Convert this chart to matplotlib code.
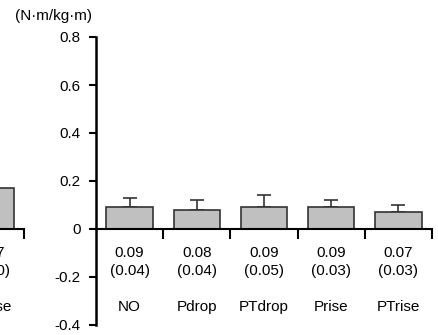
import matplotlib
matplotlib.use('Agg')
from matplotlib import pyplot as plt
from matplotlib.transforms import blended_transform_factory

plt.rcParams['font.family'] = ['Liberation Sans', 'DejaVu Sans']
plt.rcParams['font.size'] = 11
plt.rcParams['axes.unicode_minus'] = False

# main panel
categories = ['NO', 'Pdrop', 'PTdrop', 'Prise', 'PTrise']
means = [0.09, 0.08, 0.09, 0.09, 0.07]
sds = [0.04, 0.04, 0.05, 0.03, 0.03]

# partially visible panel at the left edge (only its last group shows)
left_categories = ['PTrise']
left_means = [0.17]
left_sds = [0.10]

yticks = [-0.4, -0.2, 0, 0.2, 0.4, 0.6, 0.8]
ytick_labels = ['-0.4', '-0.2', '0', '0.2', '0.4', '0.6', '0.8']

W, H = 438, 335
fig = plt.figure(figsize=(W / 100, H / 100), dpi=100)

y_bot, y_top = 325, 37
cat_w = 67.2


def draw_panel(ax, cats, vals, errs, show_y):
    n = len(cats)
    x = [i + 0.5 for i in range(n)]
    ax.bar(x, vals, width=0.69, color='#c0c0c0', edgecolor='#333333', linewidth=1.2, zorder=2)
    ax.errorbar(x, vals, yerr=[[0] * n, errs], fmt='none', ecolor='#333333',
                elinewidth=1.2, capsize=5, capthick=1.2, zorder=1)
    ax.set_xlim(0, n)
    ax.set_ylim(-0.4, 0.8)
    for s in ['top', 'right']:
        ax.spines[s].set_visible(False)
    ax.spines['bottom'].set_position(('data', 0))
    ax.spines['bottom'].set_linewidth(1.5)
    ax.spines['left'].set_linewidth(1.8)
    ax.set_xticks(range(1, n + 1))
    ax.set_xticklabels([])
    ax.tick_params(axis='x', direction='out', length=7, width=1.5)
    if show_y:
        ax.set_yticks(yticks)
        ax.set_yticklabels(ytick_labels)
        ax.tick_params(axis='y', direction='out', length=5, width=1.5, pad=6)
    else:
        ax.spines['left'].set_visible(False)
        ax.set_yticks([])
    tr = blended_transform_factory(ax.transData, ax.transAxes)
    for xi, c, v, e in zip(x, cats, vals, errs):
        ax.text(xi, (335 - 253 - 10) / 288, f'{v:.2f}', ha='center', va='center', transform=tr)
        ax.text(xi, (335 - 271 - 10) / 288, f'({e:.2f})', ha='center', va='center', transform=tr)
        ax.text(xi, (335 - 307 - 10) / 288, c, ha='center', va='center', transform=tr)


ax = fig.add_axes([96 / W, (H - y_bot) / H, 5 * cat_w / W, (y_bot - y_top) / H])
draw_panel(ax, categories, means, sds, True)

ax_left = fig.add_axes([(24 - cat_w) / W, (H - y_bot) / H, cat_w / W, (y_bot - y_top) / H])
draw_panel(ax_left, left_categories, left_means, left_sds, False)

fig.text(54 / W, 1 - 16 / H, '(N·m/kg·m)', ha='center', va='center')

fig.savefig('out.png', dpi=100)
